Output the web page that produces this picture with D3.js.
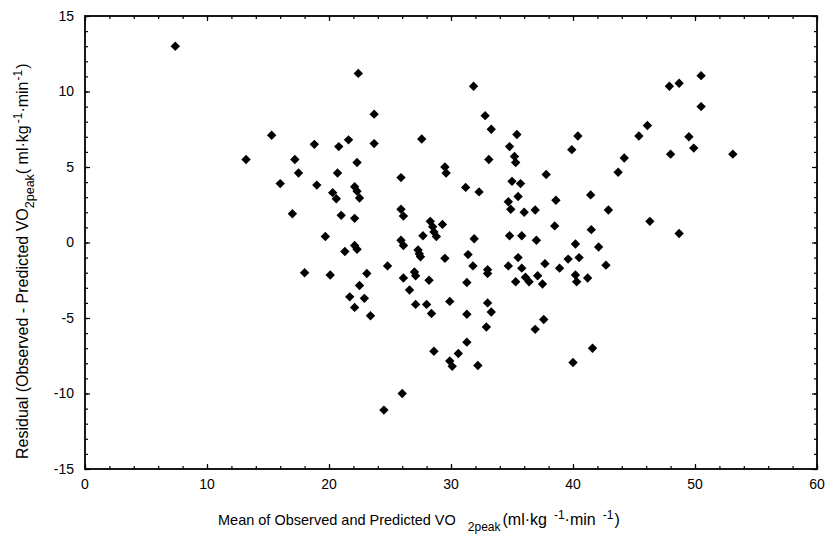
<!DOCTYPE html>
<html>
<head>
<meta charset="utf-8">
<script src="https://cdn.jsdelivr.net/npm/d3@7"></script>
<style>
  body { margin: 0; background: #fff; }
  svg text { font-family: "Liberation Sans", Arial, sans-serif; fill: #000; }
</style>
</head>
<body>
<div id="chart"></div>
<script>
// Values: mean (x) and residual (y)
const meanValues = [
  7.4, 13.2, 15.3, 16.0, 17.0, 17.2, 17.5, 18.0, 18.8, 19.0,
  19.7, 20.1, 20.3, 20.6, 20.7, 20.8, 21.0, 21.3, 21.6, 21.7,
  22.1, 22.1, 22.1, 22.1, 22.3, 22.3, 22.3, 22.4, 22.5, 22.5,
  22.9, 23.1, 23.4, 23.7, 23.7, 24.5, 24.8, 25.9, 25.9, 25.9,
  26.0, 26.1, 26.1, 26.1, 26.6, 27.0, 27.1, 27.1, 27.3, 27.4,
  27.5, 27.6, 27.7, 28.0, 28.2, 28.3, 28.4, 28.5, 28.6, 28.6,
  28.8, 29.3, 29.5, 29.6, 29.5, 29.9, 29.9, 30.1, 30.6, 31.2,
  31.3, 31.3, 31.3, 31.4, 31.8, 31.85, 31.9, 32.2, 32.3, 32.8,
  32.9, 33.0, 33.0, 33.0, 33.1, 33.3, 33.3, 34.7, 34.7, 34.8,
  34.8, 34.9, 35.0, 35.2, 35.3, 35.3, 35.4, 35.5, 35.5, 35.7,
  35.8, 35.8, 36.0, 36.1, 36.4, 36.9, 36.9, 37.0, 37.1, 37.5,
  37.6, 37.7, 37.8, 38.5, 38.6, 38.9, 39.6, 39.9, 40.0, 40.2,
  40.2, 40.3, 40.4, 40.5, 41.2, 41.45, 41.5, 41.6, 42.1, 42.7,
  42.9, 43.7, 44.2, 45.4, 46.1, 46.3, 47.9, 48.0, 48.7, 48.7,
  49.5, 49.9, 50.5, 50.5, 53.1
];
const residualValues = [
  13.0, 5.5, 7.1, 3.9, 1.9, 5.5, 4.6, -2.0, 6.5, 3.8,
  0.4, -2.15, 3.3, 2.9, 4.6, 6.35, 1.8, -0.6, 6.8, -3.6,
  3.7, 1.6, -0.2, -4.3, 3.4, -0.45, 5.3, 11.2, 2.95, -2.85,
  -3.7, -2.05, -4.85, 8.5, 6.55, -11.1, -1.55, 4.3, 2.2, 0.15,
  -10.0, 1.75, -0.2, -2.35, -3.15, -1.95, -2.2, -4.1, -0.5, -0.75,
  -0.95, 6.85, 0.45, -4.1, -2.5, 1.4, -4.7, 1.05, 0.7, -7.2,
  0.4, 1.2, 5.0, 4.6, -1.05, -3.9, -7.85, -8.2, -7.35, 3.65,
  -2.65, -4.75, -6.6, -0.8, -1.55, 10.35, 0.25, -8.15, 3.35, 8.4,
  -5.6, -1.8, -2.05, -4.0, 5.5, 7.5, -4.6, 2.7, -1.55, 6.35,
  0.45, 2.2, 4.05, 5.7, 5.3, -2.6, 7.15, 3.05, -1.0, 3.9,
  0.45, -1.7, 2.0, -2.3, -2.6, 2.15, -5.75, 0.15, -2.2, -2.75,
  -5.1, -1.4, 4.5, 1.1, 2.8, -1.7, -1.1, 6.15, -7.95, -0.1,
  -2.15, -2.6, 7.05, -1.0, -2.35, 3.15, 0.85, -7.0, -0.3, -1.5,
  2.15, 4.65, 5.6, 7.05, 7.75, 1.4, 10.35, 5.85, 10.55, 0.6,
  7.0, 6.25, 11.05, 9.0, 5.85
];
const xTicks = [0, 10, 20, 30, 40, 50, 60];
const yTicks = [-15, -10, -5, 0, 5, 10, 15];
const xMinorTicks = d3.range(0, 61, 2);
const yMinorTicks = d3.range(-15, 16, 1);

const points = meanValues.map((m, i) => ({ x: m, y: residualValues[i] }));

// Set dimensions and margins
const margin = { top: 16, right: 12, bottom: 70, left: 85 },
      width = 829 - margin.left - margin.right,
      height = 539 - margin.top - margin.bottom;

const xScale = d3.scaleLinear().domain([0, 60]).range([0, width]);
const yScale = d3.scaleLinear().domain([-15, 15]).range([height, 0]);

const svg = d3.select("#chart")
  .append("svg")
    .attr("width", 829)
    .attr("height", 539)
  .append("g")
    .attr("transform", "translate(" + margin.left + "," + margin.top + ")");

// Inward ticks on all four sides
function addAxis(axis, transform, size) {
  const g = svg.append("g")
    .attr("transform", transform)
    .call(axis.tickSizeInner(size).tickSizeOuter(0).tickFormat(""));
  g.select(".domain").remove();
  g.selectAll(".tick line").attr("stroke", "#000").attr("stroke-width", 1.2);
  return g;
}
// minor
addAxis(d3.axisBottom(xScale).tickValues(xMinorTicks), "translate(0," + height + ")", -3);
addAxis(d3.axisTop(xScale).tickValues(xMinorTicks), "translate(0,0)", -3);
addAxis(d3.axisLeft(yScale).tickValues(yMinorTicks), "translate(0,0)", -3);
addAxis(d3.axisRight(yScale).tickValues(yMinorTicks), "translate(" + width + ",0)", -3);
// major
addAxis(d3.axisBottom(xScale).tickValues(xTicks), "translate(0," + height + ")", -5);
addAxis(d3.axisTop(xScale).tickValues(xTicks), "translate(0,0)", -5);
addAxis(d3.axisLeft(yScale).tickValues(yTicks), "translate(0,0)", -5);
addAxis(d3.axisRight(yScale).tickValues(yTicks), "translate(" + width + ",0)", -5);

// Tick labels
svg.append("g").selectAll("text")
  .data(xTicks)
  .enter().append("text")
    .attr("x", d => xScale(d))
    .attr("y", height + 20)
    .attr("text-anchor", "middle")
    .style("font-size", "14px")
    .text(d => d);

svg.append("g").selectAll("text")
  .data(yTicks)
  .enter().append("text")
    .attr("x", -11)
    .attr("y", d => yScale(d))
    .attr("dy", "0.35em")
    .attr("text-anchor", "end")
    .style("font-size", "14px")
    .text(d => d);

// Frame
svg.append("rect")
  .attr("width", width)
  .attr("height", height)
  .attr("fill", "none")
  .attr("stroke", "#000")
  .attr("stroke-width", 1.8);

// Points as diamonds
svg.append("g").selectAll("path")
  .data(points)
  .enter().append("path")
    .attr("d", d3.symbol(d3.symbolSquare, 44))
    .attr("transform", d => "translate(" + xScale(d.x) + "," + yScale(d.y) + ") rotate(45)")
    .attr("fill", "#000");

// X axis label
const xl = svg.append("text")
  .attr("x", 133)
  .attr("y", height + 56)
  .attr("text-anchor", "start")
  .style("font-size", "14.5px");
xl.append("tspan").text("Mean of Observed and Predicted VO");
xl.append("tspan").attr("dx", 12).attr("dy", 6).style("font-size", "12px").text("2peak");
xl.append("tspan").attr("dx", 2).attr("dy", -6).style("font-size", "16px").text("(ml·kg");
xl.append("tspan").attr("dx", 7).attr("dy", -6).style("font-size", "12px").text("-1");
xl.append("tspan").attr("dy", 6).style("font-size", "16px").text("·min");
xl.append("tspan").attr("dx", 7).attr("dy", -6).style("font-size", "12px").text("-1");
xl.append("tspan").attr("dx", 1).attr("dy", 6).style("font-size", "16px").text(")");

// Y axis label
const yl = svg.append("text")
  .attr("transform", "translate(" + (-57) + "," + (459 - margin.top) + ") rotate(-90)")
  .attr("text-anchor", "start")
  .style("font-size", "16px");
yl.append("tspan").text("Residual (Observed - Predicted VO");
yl.append("tspan").attr("dy", 6).style("font-size", "12.5px").text("2peak");
yl.append("tspan").attr("dy", -6).text("( ml·kg");
yl.append("tspan").attr("dx", 2).attr("dy", -6).style("font-size", "12px").text("-1");
yl.append("tspan").attr("dy", 6).text("·min");
yl.append("tspan").attr("dx", 1).attr("dy", -6).style("font-size", "12px").text("-1");
yl.append("tspan").attr("dx", 1).attr("dy", 6).text(")");
</script>
</body>
</html>
